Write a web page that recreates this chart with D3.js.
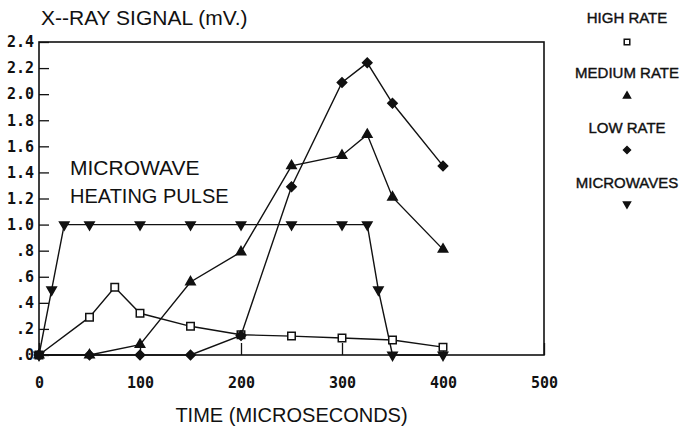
<!DOCTYPE html>
<html>
<head>
<meta charset="utf-8">
<script src="https://cdn.jsdelivr.net/npm/d3@7/dist/d3.min.js"></script>
<style>
  body { margin: 0; background: #fff; }
  text { fill: #111; }
</style>
</head>
<body>
<div id="chart"></div>
<script>
// data
const highTime = [0, 50, 75, 100, 150, 200, 250, 300, 350, 400];
const highRate = [0, 0.29, 0.52, 0.32, 0.22, 0.155, 0.145, 0.13, 0.115, 0.06];

const mediumTime = [0, 50, 100, 150, 200, 250, 300, 325, 350, 400];
const mediumRate = [0, 0, 0.08, 0.56, 0.79, 1.45, 1.53, 1.69, 1.21, 0.81];

const lowTime = [0, 50, 100, 150, 200, 250, 300, 325, 350, 400];
const lowRate = [0, 0, 0, 0, 0.15, 1.29, 2.09, 2.24, 1.93, 1.45];

const microTime = [0, 12.5, 25, 50, 100, 150, 200, 250, 300, 325, 336, 350, 400];
const microwaves = [0, 0.5, 1, 1, 1, 1, 1, 1, 1, 1, 0.5, 0, 0];

const xTicks = [0, 100, 200, 300, 400, 500];
const yTicks = [0, 0.2, 0.4, 0.6, 0.8, 1.0, 1.2, 1.4, 1.6, 1.8, 2.0, 2.2, 2.4];
const yTickLabels = ['.0', '.2', '.4', '.6', '.8', '1.0', '1.2', '1.4', '1.6', '1.8', '2.0', '2.2', '2.4'];

const legendNames = ['HIGH RATE', 'MEDIUM RATE', 'LOW RATE', 'MICROWAVES'];

const width = 689;
const height = 435;

const svg = d3.select('#chart')
  .append('svg')
  .attr('width', width)
  .attr('height', height);

const x = d3.scaleLinear().domain([0, 500]).range([39, 544]);
const y = d3.scaleLinear().domain([0, 2.4]).range([355, 42]);

// frame
svg.append('rect')
  .attr('x', x(0))
  .attr('y', y(2.4))
  .attr('width', x(500) - x(0))
  .attr('height', y(0) - y(2.4))
  .attr('fill', 'none')
  .attr('stroke', '#111')
  .attr('stroke-width', 1.6);

// y axis, ticks point inward
const yAxis = svg.append('g')
  .attr('transform', `translate(${x(0)},0)`)
  .call(d3.axisLeft(y)
    .tickValues(yTicks)
    .tickFormat((d, i) => yTickLabels[i])
    .tickSizeInner(-10)
    .tickSizeOuter(0)
    .tickPadding(5));
yAxis.select('.domain').remove();
yAxis.selectAll('line').attr('stroke', '#111').attr('stroke-width', 1.3);
yAxis.selectAll('text')
  .attr('font-family', '"DejaVu Sans Mono", monospace')
  .attr('font-weight', 'bold')
  .attr('font-size', 15)
  .style('fill', '#111');

// x axis
const xAxis = svg.append('g')
  .attr('transform', `translate(0,${y(0)})`)
  .call(d3.axisBottom(x)
    .tickValues(xTicks)
    .tickFormat(d3.format('d'))
    .tickSizeInner(-12)
    .tickSizeOuter(0)
    .tickPadding(22));
xAxis.select('.domain').remove();
xAxis.selectAll('line').attr('stroke', '#111').attr('stroke-width', 1.3);
xAxis.selectAll('text')
  .attr('font-family', '"DejaVu Sans Mono", monospace')
  .attr('font-weight', 'bold')
  .attr('font-size', 15)
  .style('fill', '#111');

const line = d3.line()
  .x(d => x(d[0]))
  .y(d => y(d[1]));

const series = [
  { t: highTime, v: highRate, sym: d3.symbolSquare, size: 56, fill: '#fff', rot: 0 },
  { t: mediumTime, v: mediumRate, sym: d3.symbolTriangle, size: 38, fill: '#111', rot: 0 },
  { t: lowTime, v: lowRate, sym: d3.symbolSquare, size: 44, fill: '#111', rot: 45 },
  { t: microTime, v: microwaves, sym: d3.symbolTriangle, size: 38, fill: '#111', rot: 180 }
];

series.forEach(s => {
  const pts = s.t.map((t, i) => [t, s.v[i]]);
  svg.append('path')
    .datum(pts)
    .attr('d', line)
    .attr('fill', 'none')
    .attr('stroke', '#111')
    .attr('stroke-width', 1.4);
});

series.forEach(s => {
  const pts = s.t.map((t, i) => [t, s.v[i]]);
  svg.selectAll(null)
    .data(pts)
    .enter()
    .append('path')
    .attr('d', d3.symbol().type(s.sym).size(s.size))
    .attr('transform', d => `translate(${x(d[0])},${y(d[1])}) rotate(${s.rot})`)
    .attr('fill', s.fill)
    .attr('stroke', '#111')
    .attr('stroke-width', 1.5);
});

// titles
svg.append('text')
  .attr('x', 41)
  .attr('y', 25)
  .attr('font-family', '"Liberation Sans", Arial, sans-serif')
  .attr('font-size', 21)
  .text('X--RAY SIGNAL (mV.)');

svg.append('text')
  .attr('x', (x(0) + x(500)) / 2)
  .attr('y', 422)
  .attr('text-anchor', 'middle')
  .attr('font-family', '"Liberation Sans", Arial, sans-serif')
  .attr('font-size', 20)
  .text('TIME (MICROSECONDS)');

svg.append('text')
  .attr('x', 70)
  .attr('y', 175)
  .attr('font-family', '"Liberation Sans", Arial, sans-serif')
  .attr('font-size', 21)
  .text('MICROWAVE');

svg.append('text')
  .attr('x', 70)
  .attr('y', 203)
  .attr('font-family', '"Liberation Sans", Arial, sans-serif')
  .attr('font-size', 20)
  .text('HEATING PULSE');

// legend
const legend = svg.append('g').attr('transform', 'translate(627,0)');
series.forEach((s, i) => {
  legend.append('text')
    .attr('x', 0)
    .attr('y', 18 + i * 55)
    .attr('dy', '0.35em')
    .attr('text-anchor', 'middle')
    .attr('font-family', '"Liberation Sans", Arial, sans-serif')
    .attr('font-size', 15)
    .attr('stroke', '#111')
    .attr('stroke-width', 0.4)
    .text(legendNames[i]);
  legend.append('path')
    .attr('d', d3.symbol().type(s.sym).size(s.size * 0.55))
    .attr('transform', `translate(0,${42 + i * 54}) rotate(${s.rot})`)
    .attr('fill', s.fill)
    .attr('stroke', '#111')
    .attr('stroke-width', 1.5);
});
</script>
</body>
</html>
